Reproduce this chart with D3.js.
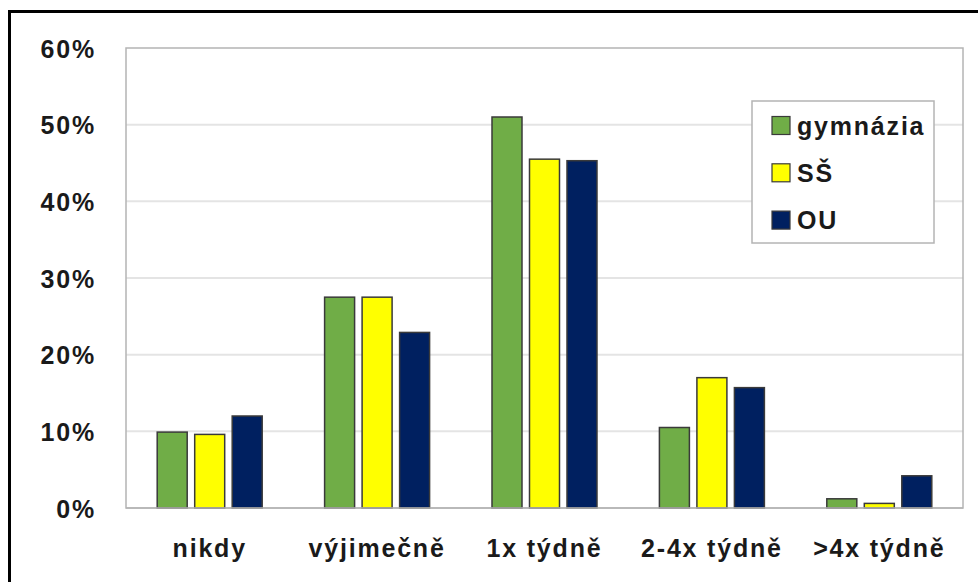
<!DOCTYPE html>
<html>
<head>
<meta charset="utf-8">
<script src="https://cdn.jsdelivr.net/npm/d3@7/dist/d3.min.js"></script>
<style>
  html, body { margin: 0; padding: 0; background: #fff; }
  svg { display: block; }
  text { font-family: "Liberation Sans", Arial, sans-serif; font-weight: bold; fill: #1a1a1a; }
</style>
</head>
<body>
<svg id="chart" width="978" height="582"></svg>
<script>
const categories = ["nikdy", "výjimečně", "1x týdně", "2-4x týdně", ">4x týdně"];
const seriesNames = ["gymnázia", "SŠ", "OU"];
const seriesColors = ["#70AD47", "#FFFF00", "#002060"];
const gymnazia = [9.9, 27.5, 51.0, 10.5, 1.2];
const ss = [9.6, 27.5, 45.5, 17.0, 0.6];
const ou = [12.0, 22.9, 45.3, 15.7, 4.2];
const yTicks = [0, 10, 20, 30, 40, 50, 60];

const seriesValues = [gymnazia, ss, ou];
const svg = d3.select("#chart");

const plot = { left: 126, right: 963, top: 48, bottom: 508 };

// outer frame
svg.append("rect")
  .attr("x", 9.5).attr("y", 11.5)
  .attr("width", 1000).attr("height", 600)
  .attr("fill", "none").attr("stroke", "#000").attr("stroke-width", 3);

const y = d3.scaleLinear().domain([0, 60]).range([plot.bottom, plot.top]);
const x0 = d3.scaleBand().domain(categories).range([plot.left, plot.right])
  .paddingInner(0.328).paddingOuter(0.164);
const x1 = d3.scaleBand().domain(seriesNames).range([0, x0.bandwidth()])
  .paddingInner(0.2).paddingOuter(0.1);

// gridlines
svg.append("g").selectAll("line").data(yTicks.filter(d => d > 0 && d < 60)).join("line")
  .attr("x1", plot.left).attr("x2", plot.right)
  .attr("y1", d => y(d)).attr("y2", d => y(d))
  .attr("stroke", "#e4e4e4").attr("stroke-width", 2);

// plot area border
svg.append("rect")
  .attr("x", plot.left).attr("y", plot.top)
  .attr("width", plot.right - plot.left).attr("height", plot.bottom - plot.top)
  .attr("fill", "none").attr("stroke", "#b4b4b4").attr("stroke-width", 1.5);

// y axis labels
const yAxis = d3.axisLeft(y).tickValues(yTicks).tickFormat(d => d + "%").tickSize(0).tickPadding(0);
const ya = svg.append("g").attr("transform", `translate(96,0)`).call(yAxis);
ya.select(".domain").remove();
ya.selectAll("text")
  .attr("font-size", 25).attr("letter-spacing", "1.8px")
  .attr("font-family", "Liberation Sans, Arial, sans-serif")
  .attr("font-weight", "bold").attr("fill", "#1a1a1a")
  .attr("dy", "0.36em");

// bars
const groups = svg.append("g").selectAll("g").data(categories).join("g")
  .attr("transform", d => `translate(${x0(d)},0)`);
groups.selectAll("rect")
  .data((c, i) => seriesNames.map((s, j) => ({ s, j, v: seriesValues[j][i] })))
  .join("rect")
  .attr("x", d => x1(d.s))
  .attr("width", x1.bandwidth())
  .attr("y", d => y(d.v))
  .attr("height", d => y(0) - y(d.v))
  .attr("fill", d => seriesColors[d.j])
  .attr("stroke", "#3a3a3a").attr("stroke-width", 1.5);

// baseline
svg.append("line")
  .attr("x1", plot.left).attr("x2", plot.right)
  .attr("y1", plot.bottom).attr("y2", plot.bottom)
  .attr("stroke", "#b4b4b4").attr("stroke-width", 1.5);

// x axis labels
const xAxis = d3.axisBottom(x0).tickSize(0).tickPadding(0);
const xa = svg.append("g").attr("transform", `translate(0,557)`).call(xAxis);
xa.select(".domain").remove();
xa.selectAll("text")
  .attr("font-size", 25).attr("letter-spacing", "1.8px")
  .attr("font-family", "Liberation Sans, Arial, sans-serif")
  .attr("font-weight", "bold").attr("fill", "#1a1a1a")
  .attr("dy", 0).attr("y", 0);

// legend
const legend = svg.append("g");
legend.append("rect")
  .attr("x", 752).attr("y", 101).attr("width", 182).attr("height", 142)
  .attr("fill", "#fff").attr("stroke", "#b4b4b4").attr("stroke-width", 1.5);
const items = legend.selectAll("g").data(seriesNames).join("g")
  .attr("transform", (d, i) => `translate(772,${125.5 + i * 47.3})`);
items.append("rect")
  .attr("x", 0).attr("y", -9).attr("width", 18).attr("height", 18)
  .attr("fill", (d, i) => seriesColors[i]).attr("stroke", "#3a3a3a").attr("stroke-width", 1.2);
items.append("text")
  .attr("x", 25).attr("y", 9)
  .attr("font-size", 25).attr("letter-spacing", "1.8px")
  .text(d => d);
</script>
</body>
</html>
